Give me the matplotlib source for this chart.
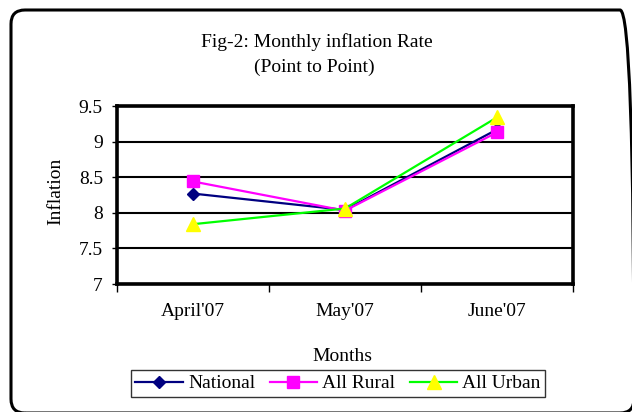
import matplotlib
matplotlib.use("Agg")
import matplotlib.pyplot as plt
from matplotlib.patches import FancyBboxPatch
from matplotlib.transforms import IdentityTransform

categories = ["April'07", "May'07", "June'07"]
national = [8.27, 8.04, 9.17]
rural = [8.44, 8.03, 9.13]
urban = [7.84, 8.06, 9.34]
yticks = [7, 7.5, 8, 8.5, 9, 9.5]
ytick_labels = ["7", "7.5", "8", "8.5", "9", "9.5"]

plt.rcParams['font.family'] = ['Liberation Serif', 'DejaVu Serif']
FS = 14

W, H = 632, 412
fig = plt.figure(figsize=(W / 100, H / 100), dpi=100)

# outer rounded border (pixel coordinates, origin bottom-left)
border = FancyBboxPatch((11, H - 413), 634 - 11, 413 - 10,
                        boxstyle="round,pad=0,rounding_size=14",
                        transform=IdentityTransform(), fill=False,
                        edgecolor="black", linewidth=2.2, clip_on=False)
fig.patches.append(border)

ax = fig.add_axes([117 / W, 1 - 284 / H, (573 - 117) / W, (284 - 106) / H])
x = [i + 0.5 for i in range(len(categories))]

ax.plot(x, national, color="#000080", marker="D", markersize=6.5,
        markerfacecolor="#000080", markeredgecolor="#000080", linewidth=1.6, label="National", zorder=3)
ax.plot(x, rural, color="#FF00FF", marker="s", markersize=9,
        markerfacecolor="#FF00FF", markeredgecolor="#FF00FF", linewidth=1.6, label="All Rural", zorder=4)
ax.plot(x, urban, color="#00FF00", marker="^", markersize=9.5,
        markerfacecolor="#FFFF00", markeredgecolor="#FFFF00", linewidth=1.6, label="All Urban", zorder=5)

ax.set_xlim(0, 3)
ax.set_ylim(7, 9.5)
ax.set_yticks(yticks)
ax.set_yticklabels(ytick_labels, fontsize=FS)
ax.set_xticks([0, 1, 2, 3])
ax.set_xticklabels([])
ax.set_xticks(x, minor=True)
ax.set_xticklabels(categories, minor=True, fontsize=FS)
ax.tick_params(axis="x", which="minor", length=0, pad=14)
ax.tick_params(axis="x", which="major", direction="out", length=5.5, width=1, color="black")
ax.tick_params(axis="y", which="major", direction="out", length=3.6, width=1, color="black", pad=6.5)
ax.yaxis.grid(True, color="black", linewidth=1.5)
ax.set_axisbelow(True)
for s in ax.spines.values():
    s.set_linewidth(2.6)
    s.set_color("black")

fig.text(56 / W, 1 - 191 / H, "Inflation", rotation=90, ha="center", va="center", fontsize=FS)
fig.text(342 / W, 1 - 361 / H, "Months", ha="center", va="baseline", fontsize=FS)

fig.text(317 / W, 1 - 47 / H, "Fig-2: Monthly inflation Rate", ha="center", va="baseline", fontsize=FS)
fig.text(314 / W, 1 - 72 / H, "(Point to Point)", ha="center", va="baseline", fontsize=FS)

leg = fig.legend(loc="center", bbox_to_anchor=(338 / W, 1 - 383.5 / H), ncol=3,
                 fontsize=FS, frameon=True, fancybox=False, edgecolor="black",
                 handlelength=2.45, handletextpad=0.25, columnspacing=0.75,
                 borderpad=0.25, borderaxespad=0)
leg.get_frame().set_linewidth(1)

fig.savefig("out.png", dpi=100)
